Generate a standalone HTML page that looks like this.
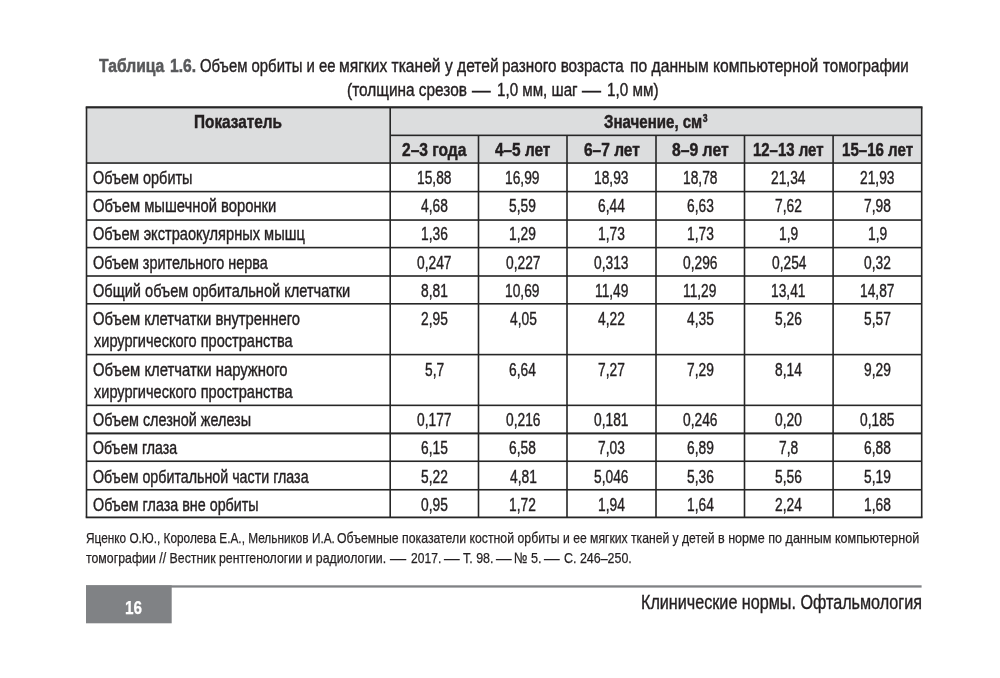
<!DOCTYPE html>
<html lang="ru"><head><meta charset="utf-8"><title>Таблица 1.6</title>
<style>
html,body{margin:0;padding:0;background:#fff;}
body{width:1000px;height:678px;position:relative;overflow:hidden;font-family:"Liberation Sans",sans-serif;color:#231f20;}
svg{position:absolute;left:0;top:0;}
.t{-webkit-text-stroke:0.4px;position:absolute;white-space:nowrap;transform-origin:0 0;line-height:normal;display:block;}
</style></head><body>
<svg width="1000" height="678" viewBox="0 0 1000 678">
<rect x="86.5" y="107.3" width="835.2" height="55.75" fill="#dcddde"/>
<rect x="85.70" y="106.20" width="836.80" height="2.2" fill="#262626"/>
<rect x="390.20" y="134.55" width="531.50" height="1.6" fill="#262626"/>
<rect x="86.50" y="162.25" width="835.20" height="1.6" fill="#262626"/>
<rect x="86.50" y="190.80" width="835.20" height="1.6" fill="#262626"/>
<rect x="86.50" y="219.25" width="835.20" height="1.6" fill="#262626"/>
<rect x="86.50" y="246.80" width="835.20" height="1.6" fill="#262626"/>
<rect x="86.50" y="275.20" width="835.20" height="1.6" fill="#262626"/>
<rect x="86.50" y="303.00" width="835.20" height="1.6" fill="#262626"/>
<rect x="86.50" y="353.80" width="835.20" height="1.6" fill="#262626"/>
<rect x="86.50" y="404.55" width="835.20" height="1.6" fill="#262626"/>
<rect x="86.50" y="432.40" width="835.20" height="2.0" fill="#262626"/>
<rect x="86.50" y="460.45" width="835.20" height="1.6" fill="#262626"/>
<rect x="86.50" y="488.95" width="835.20" height="1.6" fill="#262626"/>
<rect x="85.70" y="516.50" width="836.80" height="1.8" fill="#262626"/>
<rect x="85.70" y="107.30" width="1.6" height="410.10" fill="#262626"/>
<rect x="920.90" y="107.30" width="1.6" height="410.10" fill="#262626"/>
<rect x="389.40" y="107.30" width="1.6" height="410.10" fill="#262626"/>
<rect x="477.70" y="135.35" width="1.6" height="382.05" fill="#262626"/>
<rect x="566.20" y="135.35" width="1.6" height="382.05" fill="#262626"/>
<rect x="655.20" y="135.35" width="1.6" height="382.05" fill="#262626"/>
<rect x="743.70" y="135.35" width="1.6" height="382.05" fill="#262626"/>
<rect x="832.30" y="135.35" width="1.6" height="382.05" fill="#262626"/>
<rect x="86" y="585.3" width="835.6" height="2.3" fill="#808285"/>
<rect x="86" y="585.3" width="85.7" height="38" fill="#808285"/>
</svg>
<span class="t" style="left:99.10px;top:55px;font-size:19.2px;transform:scaleX(0.8167);font-weight:bold;-webkit-text-stroke:0.5px;color:#58595b;word-spacing:0.08em;">Таблица 1.6.</span>
<span class="t" style="left:199.70px;top:55px;font-size:18.7px;transform:scaleX(0.7965);">Объем орбиты и ее</span>
<span class="t" style="left:338.92px;top:55px;font-size:18.7px;transform:scaleX(0.8351);">мягких тканей у детей</span>
<span class="t" style="left:502.45px;top:55px;font-size:18.7px;transform:scaleX(0.8162);">разного возраста</span>
<span class="t" style="left:629.82px;top:55px;font-size:18.7px;transform:scaleX(0.8382);">по данным компьютерной</span>
<span class="t" style="left:823.36px;top:55px;font-size:18.7px;transform:scaleX(0.8104);">томографии</span>
<span class="t" style="left:347.38px;top:79px;font-size:18.7px;transform:scaleX(0.8238);">(толщина срезов</span>
<span class="t" style="left:472.00px;top:79px;font-size:18.7px;transform:scaleX(0.9947);">—</span>
<span class="t" style="left:496.95px;top:79px;font-size:18.7px;transform:scaleX(0.8106);">1,0 мм, шаг</span>
<span class="t" style="left:582.40px;top:79px;font-size:18.7px;transform:scaleX(1.0160);">—</span>
<span class="t" style="left:607.05px;top:79px;font-size:18.7px;transform:scaleX(0.8165);">1,0 мм)</span>
<span class="t" style="left:193.74px;top:111px;font-size:18.5px;transform:scaleX(0.8288);font-weight:bold;-webkit-text-stroke:0.5px;">Показатель</span>
<span class="t" style="left:603.56px;top:111px;font-size:18.5px;transform:scaleX(0.8140);font-weight:bold;-webkit-text-stroke:0.5px;">Значение, см<span style="font-size:10.5px;position:relative;top:-6px;margin-left:0.5px">3</span></span>
<span class="t" style="left:401.86px;top:139px;font-size:18.5px;transform:scaleX(0.8410);font-weight:bold;-webkit-text-stroke:0.5px;">2–3 года</span>
<span class="t" style="left:495.25px;top:139px;font-size:18.5px;transform:scaleX(0.8304);font-weight:bold;-webkit-text-stroke:0.5px;">4–5 лет</span>
<span class="t" style="left:583.52px;top:139px;font-size:18.5px;transform:scaleX(0.8377);font-weight:bold;-webkit-text-stroke:0.5px;">6–7 лет</span>
<span class="t" style="left:671.86px;top:139px;font-size:18.5px;transform:scaleX(0.8499);font-weight:bold;-webkit-text-stroke:0.5px;">8–9 лет</span>
<span class="t" style="left:753.27px;top:139px;font-size:18.5px;transform:scaleX(0.8079);font-weight:bold;-webkit-text-stroke:0.5px;">12–13 лет</span>
<span class="t" style="left:841.56px;top:139px;font-size:18.5px;transform:scaleX(0.8149);font-weight:bold;-webkit-text-stroke:0.5px;">15–16 лет</span>
<span class="t" style="left:93.42px;top:168px;font-size:17.5px;transform:scaleX(0.8257);">Объем орбиты</span>
<span class="t" style="left:416.97px;top:168px;font-size:18px;transform:scaleX(0.7650);">15,88</span>
<span class="t" style="left:505.37px;top:168px;font-size:18px;transform:scaleX(0.7650);">16,99</span>
<span class="t" style="left:594.12px;top:168px;font-size:18px;transform:scaleX(0.7650);">18,93</span>
<span class="t" style="left:682.87px;top:168px;font-size:18px;transform:scaleX(0.7650);">18,78</span>
<span class="t" style="left:771.42px;top:168px;font-size:18px;transform:scaleX(0.7650);">21,34</span>
<span class="t" style="left:860.13px;top:168px;font-size:18px;transform:scaleX(0.7650);">21,93</span>
<span class="t" style="left:93.41px;top:196px;font-size:17.5px;transform:scaleX(0.8447);">Объем мышечной воронки</span>
<span class="t" style="left:421.12px;top:196px;font-size:18px;transform:scaleX(0.7650);">4,68</span>
<span class="t" style="left:509.41px;top:196px;font-size:18px;transform:scaleX(0.7650);">5,59</span>
<span class="t" style="left:597.95px;top:196px;font-size:18px;transform:scaleX(0.7650);">6,44</span>
<span class="t" style="left:686.81px;top:196px;font-size:18px;transform:scaleX(0.7650);">6,63</span>
<span class="t" style="left:775.36px;top:196px;font-size:18px;transform:scaleX(0.7650);">7,62</span>
<span class="t" style="left:863.96px;top:196px;font-size:18px;transform:scaleX(0.7650);">7,98</span>
<span class="t" style="left:93.41px;top:224px;font-size:17.5px;transform:scaleX(0.8352);">Объем экстраокулярных мышц</span>
<span class="t" style="left:420.80px;top:224px;font-size:18px;transform:scaleX(0.7650);">1,36</span>
<span class="t" style="left:509.20px;top:224px;font-size:18px;transform:scaleX(0.7650);">1,29</span>
<span class="t" style="left:597.95px;top:224px;font-size:18px;transform:scaleX(0.7650);">1,73</span>
<span class="t" style="left:686.70px;top:224px;font-size:18px;transform:scaleX(0.7650);">1,73</span>
<span class="t" style="left:779.08px;top:224px;font-size:18px;transform:scaleX(0.7650);">1,9</span>
<span class="t" style="left:867.68px;top:224px;font-size:18px;transform:scaleX(0.7650);">1,9</span>
<span class="t" style="left:93.43px;top:253px;font-size:17.5px;transform:scaleX(0.8224);">Объем зрительного нерва</span>
<span class="t" style="left:417.18px;top:253px;font-size:18px;transform:scaleX(0.7650);">0,247</span>
<span class="t" style="left:505.58px;top:253px;font-size:18px;transform:scaleX(0.7650);">0,227</span>
<span class="t" style="left:594.33px;top:253px;font-size:18px;transform:scaleX(0.7650);">0,313</span>
<span class="t" style="left:683.08px;top:253px;font-size:18px;transform:scaleX(0.7650);">0,296</span>
<span class="t" style="left:771.53px;top:253px;font-size:18px;transform:scaleX(0.7650);">0,254</span>
<span class="t" style="left:864.06px;top:253px;font-size:18px;transform:scaleX(0.7650);">0,32</span>
<span class="t" style="left:93.42px;top:281px;font-size:17.5px;transform:scaleX(0.8338);">Общий объем орбитальной клетчатки</span>
<span class="t" style="left:421.01px;top:281px;font-size:18px;transform:scaleX(0.7650);">8,81</span>
<span class="t" style="left:505.37px;top:281px;font-size:18px;transform:scaleX(0.7650);">10,69</span>
<span class="t" style="left:594.63px;top:281px;font-size:18px;transform:scaleX(0.7650);">11,49</span>
<span class="t" style="left:683.38px;top:281px;font-size:18px;transform:scaleX(0.7650);">11,29</span>
<span class="t" style="left:771.42px;top:281px;font-size:18px;transform:scaleX(0.7650);">13,41</span>
<span class="t" style="left:860.02px;top:281px;font-size:18px;transform:scaleX(0.7650);">14,87</span>
<span class="t" style="left:93.41px;top:309px;font-size:17.5px;transform:scaleX(0.8462);">Объем клетчатки внутреннего</span>
<span class="t" style="left:94.10px;top:331px;font-size:17.5px;transform:scaleX(0.8320);">хирургического пространства</span>
<span class="t" style="left:420.91px;top:309px;font-size:18px;transform:scaleX(0.7650);">2,95</span>
<span class="t" style="left:509.52px;top:309px;font-size:18px;transform:scaleX(0.7650);">4,05</span>
<span class="t" style="left:598.27px;top:309px;font-size:18px;transform:scaleX(0.7650);">4,22</span>
<span class="t" style="left:687.02px;top:309px;font-size:18px;transform:scaleX(0.7650);">4,35</span>
<span class="t" style="left:775.46px;top:309px;font-size:18px;transform:scaleX(0.7650);">5,26</span>
<span class="t" style="left:864.06px;top:309px;font-size:18px;transform:scaleX(0.7650);">5,57</span>
<span class="t" style="left:93.40px;top:360px;font-size:17.5px;transform:scaleX(0.8485);">Объем клетчатки наружного</span>
<span class="t" style="left:94.10px;top:382px;font-size:17.5px;transform:scaleX(0.8320);">хирургического пространства</span>
<span class="t" style="left:424.84px;top:360px;font-size:18px;transform:scaleX(0.7650);">5,7</span>
<span class="t" style="left:509.20px;top:360px;font-size:18px;transform:scaleX(0.7650);">6,64</span>
<span class="t" style="left:598.06px;top:360px;font-size:18px;transform:scaleX(0.7650);">7,27</span>
<span class="t" style="left:686.81px;top:360px;font-size:18px;transform:scaleX(0.7650);">7,29</span>
<span class="t" style="left:775.36px;top:360px;font-size:18px;transform:scaleX(0.7650);">8,14</span>
<span class="t" style="left:863.96px;top:360px;font-size:18px;transform:scaleX(0.7650);">9,29</span>
<span class="t" style="left:93.42px;top:410px;font-size:17.5px;transform:scaleX(0.8233);">Объем слезной железы</span>
<span class="t" style="left:417.18px;top:410px;font-size:18px;transform:scaleX(0.7650);">0,177</span>
<span class="t" style="left:505.58px;top:410px;font-size:18px;transform:scaleX(0.7650);">0,216</span>
<span class="t" style="left:594.33px;top:410px;font-size:18px;transform:scaleX(0.7650);">0,181</span>
<span class="t" style="left:683.08px;top:410px;font-size:18px;transform:scaleX(0.7650);">0,246</span>
<span class="t" style="left:775.36px;top:410px;font-size:18px;transform:scaleX(0.7650);">0,20</span>
<span class="t" style="left:860.23px;top:410px;font-size:18px;transform:scaleX(0.7650);">0,185</span>
<span class="t" style="left:93.44px;top:438px;font-size:17.5px;transform:scaleX(0.8075);">Объем глаза</span>
<span class="t" style="left:420.91px;top:438px;font-size:18px;transform:scaleX(0.7650);">6,15</span>
<span class="t" style="left:509.31px;top:438px;font-size:18px;transform:scaleX(0.7650);">6,58</span>
<span class="t" style="left:598.06px;top:438px;font-size:18px;transform:scaleX(0.7650);">7,03</span>
<span class="t" style="left:686.81px;top:438px;font-size:18px;transform:scaleX(0.7650);">6,89</span>
<span class="t" style="left:779.19px;top:438px;font-size:18px;transform:scaleX(0.7650);">7,8</span>
<span class="t" style="left:863.96px;top:438px;font-size:18px;transform:scaleX(0.7650);">6,88</span>
<span class="t" style="left:93.43px;top:467px;font-size:17.5px;transform:scaleX(0.8149);">Объем орбитальной части глаза</span>
<span class="t" style="left:421.01px;top:467px;font-size:18px;transform:scaleX(0.7650);">5,22</span>
<span class="t" style="left:509.52px;top:467px;font-size:18px;transform:scaleX(0.7650);">4,81</span>
<span class="t" style="left:594.33px;top:467px;font-size:18px;transform:scaleX(0.7650);">5,046</span>
<span class="t" style="left:686.91px;top:467px;font-size:18px;transform:scaleX(0.7650);">5,36</span>
<span class="t" style="left:775.46px;top:467px;font-size:18px;transform:scaleX(0.7650);">5,56</span>
<span class="t" style="left:864.06px;top:467px;font-size:18px;transform:scaleX(0.7650);">5,19</span>
<span class="t" style="left:93.43px;top:495px;font-size:17.5px;transform:scaleX(0.8185);">Объем глаза вне орбиты</span>
<span class="t" style="left:421.01px;top:495px;font-size:18px;transform:scaleX(0.7650);">0,95</span>
<span class="t" style="left:509.20px;top:495px;font-size:18px;transform:scaleX(0.7650);">1,72</span>
<span class="t" style="left:597.84px;top:495px;font-size:18px;transform:scaleX(0.7650);">1,94</span>
<span class="t" style="left:686.59px;top:495px;font-size:18px;transform:scaleX(0.7650);">1,64</span>
<span class="t" style="left:775.25px;top:495px;font-size:18px;transform:scaleX(0.7650);">2,24</span>
<span class="t" style="left:863.85px;top:495px;font-size:18px;transform:scaleX(0.7650);">1,68</span>
<span class="t" style="left:85.85px;top:529px;font-size:15px;transform:scaleX(0.7869);-webkit-text-stroke:0.25px;">Яценко О.Ю., Королева Е.А., Мельников И.А.</span>
<span class="t" style="left:337.42px;top:529px;font-size:15px;transform:scaleX(0.8195);-webkit-text-stroke:0.25px;">Объемные показатели костной орбиты</span>
<span class="t" style="left:563.24px;top:529px;font-size:15px;transform:scaleX(0.8105);-webkit-text-stroke:0.25px;">и ее мягких тканей у детей</span>
<span class="t" style="left:718.41px;top:529px;font-size:15px;transform:scaleX(0.8384);-webkit-text-stroke:0.25px;">в норме по данным компьютерной</span>
<span class="t" style="left:86.21px;top:549px;font-size:15px;transform:scaleX(0.8221);-webkit-text-stroke:0.25px;">томографии // Вестник рентгенологии и радиологии.</span>
<span class="t" style="left:390.20px;top:549px;font-size:15px;transform:scaleX(1.0733);-webkit-text-stroke:0.25px;">—</span>
<span class="t" style="left:410.63px;top:549px;font-size:15px;transform:scaleX(0.8061);-webkit-text-stroke:0.25px;">2017.</span>
<span class="t" style="left:444.20px;top:549px;font-size:15px;transform:scaleX(1.0400);-webkit-text-stroke:0.25px;">—</span>
<span class="t" style="left:462.51px;top:549px;font-size:15px;transform:scaleX(0.8291);-webkit-text-stroke:0.25px;">Т. 98.</span>
<span class="t" style="left:496.20px;top:549px;font-size:15px;transform:scaleX(1.0400);-webkit-text-stroke:0.25px;">—</span>
<span class="t" style="left:514.21px;top:549px;font-size:15px;transform:scaleX(0.8432);-webkit-text-stroke:0.25px;">№ 5.</span>
<span class="t" style="left:544.30px;top:549px;font-size:15px;transform:scaleX(1.0400);-webkit-text-stroke:0.25px;">—</span>
<span class="t" style="left:563.52px;top:549px;font-size:15px;transform:scaleX(0.8296);-webkit-text-stroke:0.25px;">С. 246–250.</span>
<span class="t" style="left:124.64px;top:597px;font-size:19px;transform:scaleX(0.8062);font-weight:bold;-webkit-text-stroke:0.25px;color:#ffffff;">16</span>
<span class="t" style="left:640.74px;top:590px;font-size:20.5px;transform:scaleX(0.7881);">Клинические нормы. Офтальмология</span>
</body></html>
